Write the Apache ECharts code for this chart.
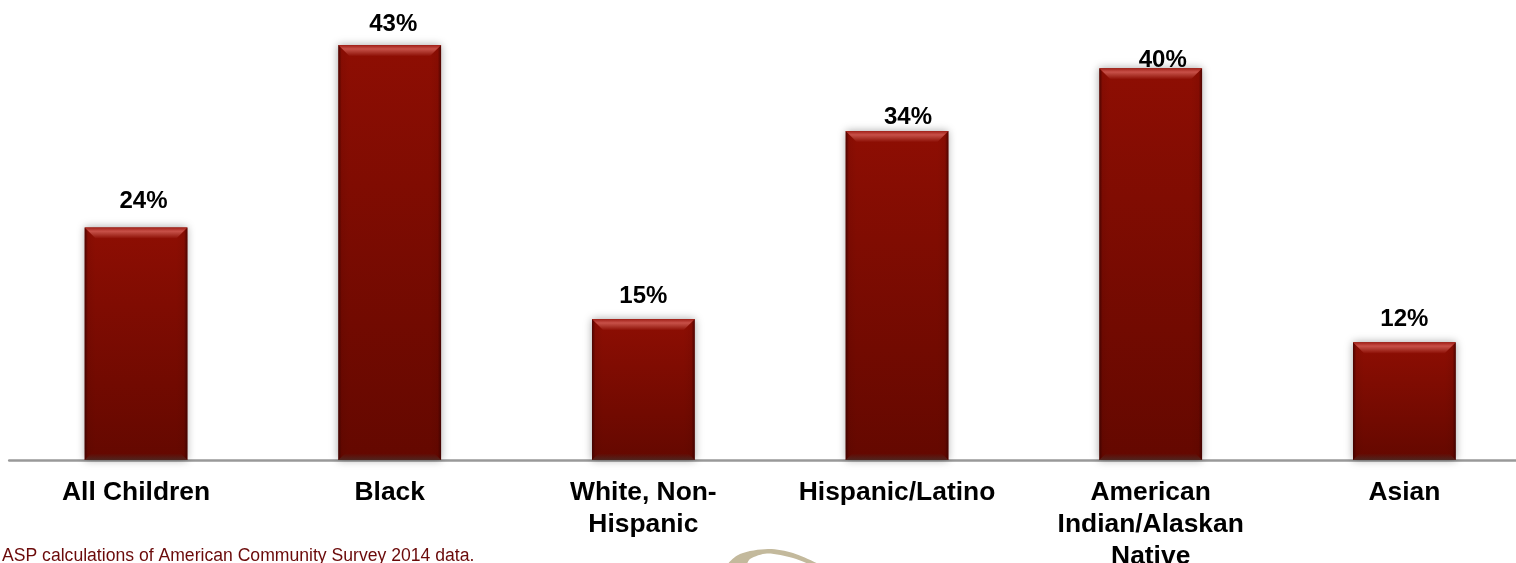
<!DOCTYPE html>
<html><head><meta charset="utf-8">
<style>html,body{margin:0;padding:0;background:#fff;overflow:hidden}#c{width:1516px;height:563px}</style>
<script src="https://cdn.jsdelivr.net/npm/echarts@6/dist/echarts.min.js"></script>
</head><body><div id="c"></div>
<script>
const categories = ['All Children','Black','White, Non-\nHispanic','Hispanic/Latino','American\nIndian/Alaskan\nNative','Asian'];
const barValues = [24.1, 43, 14.6, 34.1, 40.6, 12.2];
const valueLabels = ['24%','43%','15%','34%','40%','12%'];
const labelGaps = [26, 21, 23, 14, 8, 23];
const labelShifts = [7.5, 3.5, 0, 11, 12, 0];
const sourceNote = 'ASP calculations of American Community Survey 2014 data.';

const FONT = '"Liberation Sans", Arial, sans-serif';
const BEVEL = 11;
const chart = echarts.init(document.getElementById('c'), null, {renderer:'canvas'});

function renderBar(params, api) {
  const i = api.value(0);
  const top = api.coord([i, api.value(1)]);
  const base = api.coord([i, 0]);
  const w = api.size([1, 0])[0] * 0.405;
  const x0 = top[0] - w / 2, x1 = top[0] + w / 2, y0 = top[1], y1 = base[1];
  const poly = (points, fill) => ({type:'polygon', shape:{points}, style:{fill}, silent:true});
  const edge = (x, y, x2, y2) => new echarts.graphic.LinearGradient(x,y,x2,y2,[{offset:0,color:'rgba(50,0,0,0.7)'},{offset:0.3,color:'rgba(50,0,0,0.08)'},{offset:1,color:'rgba(50,0,0,0)'}]);
  return {type:'group', children:[
    {type:'rect', shape:{x:x0, y:y0, width:w, height:y1 - y0},
      style:{fill:new echarts.graphic.LinearGradient(0,0,0,1,[{offset:0,color:'#8e0e03'},{offset:1,color:'#640800'}]),
        shadowBlur:8, shadowColor:'rgba(0,0,0,0.35)'}},
    poly([[x0,y0],[x0+BEVEL,y0+BEVEL],[x0+BEVEL,y1-BEVEL],[x0,y1]], edge(0,0,1,0)),
    poly([[x1,y0],[x1-BEVEL,y0+BEVEL],[x1-BEVEL,y1-BEVEL],[x1,y1]], edge(1,0,0,0)),
    poly([[x0,y0],[x1,y0],[x1-BEVEL,y0+BEVEL],[x0+BEVEL,y0+BEVEL]], new echarts.graphic.LinearGradient(0,0,0,1,[{offset:0,color:'#a02018'},{offset:0.35,color:'#c85048'},{offset:0.6,color:'#b03a30'},{offset:1,color:'#8e1006'}])),
    poly([[x0,y1],[x1,y1],[x1-BEVEL,y1-BEVEL],[x0+BEVEL,y1-BEVEL]], new echarts.graphic.LinearGradient(0,1,0,0,[{offset:0,color:'rgba(70,50,45,0.7)'},{offset:0.6,color:'rgba(70,50,45,0)'},{offset:1,color:'rgba(70,50,45,0)'}])),
    {type:'text', style:{text:valueLabels[i], x:top[0] + labelShifts[params.dataIndex], y:y0 - labelGaps[params.dataIndex], align:'center', verticalAlign:'middle',
      font:'bold 24px '+FONT, fill:'#000'}, z2:10}
  ]};
}

chart.setOption({
  animation:false,
  grid:{left:9.2, right:-15.2, top:0, bottom:103, outerBoundsMode:'none'},
  xAxis:{type:'category', data:categories,
    axisTick:{show:false},
    axisLine:{lineStyle:{color:'#999999', width:2.5}},
    axisLabel:{interval:0, hideOverlap:false, color:'#000', fontFamily:FONT, fontWeight:'bold', fontSize:26.4, lineHeight:32, margin:17}},
  yAxis:{type:'value', min:0, max:47.67, show:false, splitLine:{show:false}},
  series:[{type:'custom', renderItem:renderBar, encode:{x:0,y:1}, z:1,
    data:barValues.map((v,i)=>[i,v])}],
  graphic:[
    {type:'text', left:2, top:547, style:{text:sourceNote, font:'17.6px '+FONT, fill:'#6b0a0a'}},
    {type:'polygon', silent:true, shape:{smooth:0.3, points:[[727,566],[740,554],[768,549],[793,553],[822,566],[812,565],[793,558],[767,553.5],[750,559],[745,566]]}, style:{fill:'#c3b99c'}}
  ]
});
</script></body></html>
